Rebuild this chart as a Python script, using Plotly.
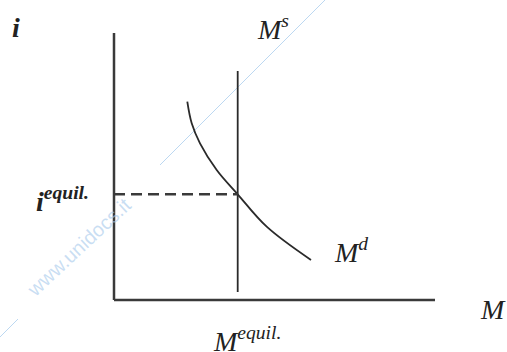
import plotly.graph_objects as go

# Diagram data (units: origin at the axes corner)
axis_x = [0, 0, None, 0, 321]
axis_y = [267, 0, None, 0, 0]

ms_x = [123.7, 123.7]
ms_y = [229, 8]

md_x = [73.3, 77.7, 86, 102.7, 123.7, 152.7, 197]
md_y = [198.3, 176.7, 156.7, 130, 105.7, 73.3, 40]

eq_x = [0, 123.7]
eq_y = [105.7, 105.7]

wm_x = [211, 46, None, -114, -96]
wm_y = [300, 135, None, -37, -19]

labels = [
    ("<b><i>i</i></b>", -98, 273),
    ("<i>M<sup>s</sup></i>", 159, 273),
    ("<b><i>i<sup>equil.</sup></i></b>", -52, 101),
    ("<i>M<sup>d</sup></i>", 237, 50),
    ("<i>M</i>", 379, -9),
    ("<i>M<sup>equil.</sup></i>", 133, -39),
]

fig = go.Figure()
fig.add_trace(go.Scatter(x=wm_x, y=wm_y, mode="lines",
                         line=dict(color="rgba(160,200,235,0.7)", width=1),
                         hoverinfo="skip"))
fig.add_trace(go.Scatter(x=axis_x, y=axis_y, mode="lines",
                         line=dict(color="#3a3a3a", width=2.5)))
fig.add_trace(go.Scatter(x=ms_x, y=ms_y, mode="lines",
                         line=dict(color="#2a2a2a", width=1.8)))
fig.add_trace(go.Scatter(x=md_x, y=md_y, mode="lines",
                         line=dict(color="#2a2a2a", width=1.8, shape="spline")))
fig.add_trace(go.Scatter(x=eq_x, y=eq_y, mode="lines",
                         line=dict(color="#3a3a3a", width=2.5, dash="11px,6px")))

anns = []
for txt, x, y in labels:
    anns.append(dict(x=x, y=y, text=txt, showarrow=False,
                     font=dict(family="Liberation Serif", size=28, color="#222222")))
anns.append(dict(x=-35, y=53, text="www.unidocs.it", showarrow=False, textangle=-43,
                 font=dict(family="Liberation Sans", size=20, color="rgba(165,200,235,0.6)")))

fig.update_layout(
    width=507, height=352,
    margin=dict(l=0, r=0, t=0, b=0),
    paper_bgcolor="white", plot_bgcolor="white",
    showlegend=False,
    xaxis=dict(range=[-114, 393], visible=False, fixedrange=True),
    yaxis=dict(range=[-52, 300], visible=False, fixedrange=True),
    annotations=anns,
)
fig.write_html(
    "out.html",
    config={"displayModeBar": False},
    post_script="document.body.style.margin='0';document.body.style.overflow='hidden';",
)
